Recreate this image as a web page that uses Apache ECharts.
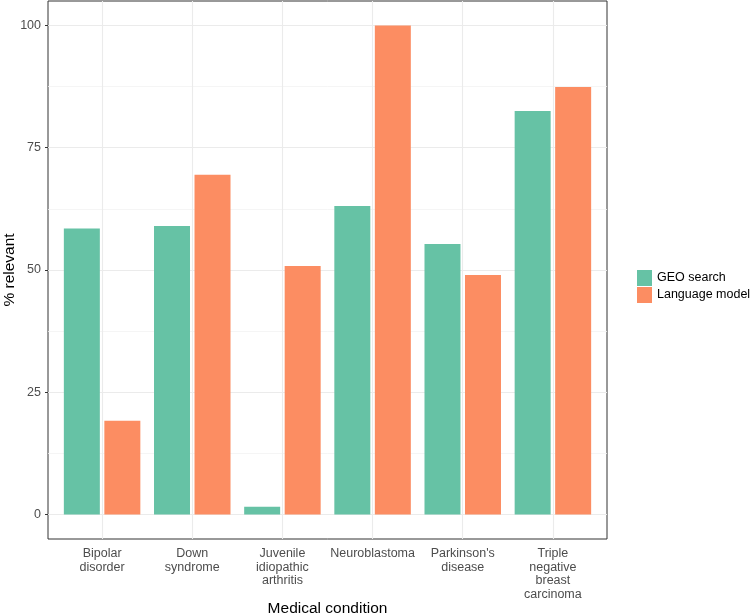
<!DOCTYPE html>
<html>
<head>
<meta charset="utf-8">
<script src="https://cdn.jsdelivr.net/npm/echarts@6/dist/echarts.min.js"></script>
<style>
  html, body { margin: 0; padding: 0; background: #fff; }
  #chart { width: 750px; height: 616px; }
</style>
</head>
<body>
<div id="chart"></div>
<script>
var categories = ['Bipolar\ndisorder', 'Down\nsyndrome', 'Juvenile\nidiopathic\narthritis',
                  'Neuroblastoma', "Parkinson's\ndisease", 'Triple\nnegative\nbreast\ncarcinoma'];
var geoSearch = [58.5, 59.0, 1.6, 63.1, 55.3, 82.5];
var languageModel = [19.2, 69.5, 50.8, 100, 49.0, 87.4];
var yTicks = [0, 25, 50, 75, 100];
var yMinor = [12.5, 37.5, 62.5, 87.5];

var xPos = categories.map(function (c, i) { return i + 1; });

function toPairs(values) {
    return values.map(function (v, i) { return [xPos[i], v]; });
}

// ggplot style grid: major + minor horizontal, major vertical at category centres
var gridLines = [];
yTicks.forEach(function (v) {
    gridLines.push({ yAxis: v, lineStyle: { color: '#EBEBEB', width: 1.1, type: 'solid' } });
});
yMinor.forEach(function (v) {
    gridLines.push({ yAxis: v, lineStyle: { color: '#F2F2F2', width: 0.8, type: 'solid' } });
});
xPos.forEach(function (v) {
    gridLines.push({ xAxis: v, lineStyle: { color: '#EBEBEB', width: 1.1, type: 'solid' } });
});

var chart = echarts.init(document.getElementById('chart'));
var option = {
    backgroundColor: '#ffffff',
    textStyle: { fontFamily: 'Liberation Sans, Arial, sans-serif' },
    animation: false,
    grid: {
        left: 48, right: 143, top: 1, bottom: 77,
        show: true, borderColor: '#333333', borderWidth: 1,
        containLabel: false,
        outerBoundsMode: 'none'
    },
    legend: {
        orient: 'vertical',
        left: 632, top: 265,
        itemWidth: 15, itemHeight: 16, itemGap: 1,
        icon: 'rect',
        textStyle: { fontSize: 12.5, color: '#000' },
        data: ['GEO search', 'Language model']
    },
    xAxis: {
        type: 'value',
        min: 0.4, max: 6.6,
        name: 'Medical condition',
        nameLocation: 'middle',
        nameGap: 62,
        nameMoveOverlap: false,
        nameTextStyle: { fontSize: 15.5, color: '#000' },
        axisLine: { show: false },
        axisTick: { show: true, length: 3, customValues: xPos, lineStyle: { color: '#333333' } },
        axisLabel: {
            customValues: xPos,
            color: '#4D4D4D', fontSize: 12.5, lineHeight: 13.5, margin: 8,
            formatter: function (v) { return categories[Math.round(v) - 1] || ''; }
        },
        splitLine: { show: false }
    },
    yAxis: {
        type: 'value',
        min: -5, max: 105,
        name: '% relevant',
        nameLocation: 'middle',
        nameGap: 30,
        nameMoveOverlap: false,
        nameTextStyle: { fontSize: 15.5, color: '#000' },
        axisLine: { show: false },
        axisTick: { show: true, length: 3, customValues: yTicks, lineStyle: { color: '#333333' } },
        axisLabel: { customValues: yTicks, color: '#4D4D4D', fontSize: 12.5, margin: 7 },
        splitLine: { show: false }
    },
    series: [
        {
            name: 'grid',
            type: 'line',
            data: [],
            z: 1,
            silent: true,
            markLine: {
                silent: true,
                z: 1,
                symbol: ['none', 'none'],
                label: { show: false },
                animation: false,
                data: gridLines
            }
        },
        {
            name: 'GEO search',
            type: 'bar',
            z: 10,
            barWidth: 36,
            barGap: '12.5%',
            itemStyle: { color: '#66C2A5' },
            data: toPairs(geoSearch)
        },
        {
            name: 'Language model',
            type: 'bar',
            z: 10,
            barWidth: 36,
            barGap: '12.5%',
            itemStyle: { color: '#FC8D62' },
            data: toPairs(languageModel)
        }
    ]
};
chart.setOption(option);
</script>
</body>
</html>
